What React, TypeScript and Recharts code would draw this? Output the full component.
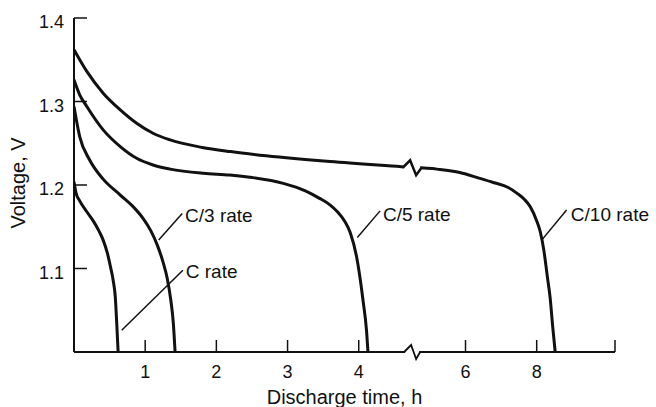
import React from 'react';
import { LineChart, Line, XAxis, YAxis, ReferenceDot, ReferenceLine, Label } from 'recharts';

// discharge curves, hours vs volts
const cHours = [0, 0.03, 0.08, 0.18, 0.27, 0.35, 0.41, 0.47, 0.51, 0.55, 0.58, 0.6, 0.62];
const cVolts = [1.204, 1.19, 1.181, 1.168, 1.157, 1.145, 1.134, 1.118, 1.103, 1.086, 1.066, 1.035, 1.0];

const c3Hours = [0, 0.08, 0.22, 0.41, 0.65, 0.82, 0.97, 1.08, 1.17, 1.25, 1.31, 1.36, 1.395, 1.42];
const c3Volts = [1.294, 1.258, 1.23, 1.207, 1.188, 1.175, 1.16, 1.145, 1.128, 1.108, 1.088, 1.062, 1.035, 1.0];

const c5Hours = [0, 0.08, 0.18, 0.41, 0.65, 0.88, 1.11, 1.35, 1.82, 2.19, 2.5, 2.94, 3.25, 3.45, 3.6, 3.7, 3.8, 3.88, 3.97, 4.06, 4.11, 4.13];
const c5Volts = [1.326, 1.308, 1.294, 1.266, 1.246, 1.232, 1.224, 1.219, 1.214, 1.212, 1.209, 1.202, 1.193, 1.184, 1.176, 1.168, 1.157, 1.143, 1.114, 1.062, 1.025, 1.0];

const c10Hours = [0, 0.18, 0.41, 0.65, 0.88, 1.11, 1.35, 1.8, 2.2, 2.7, 3.6, 4.6, 5.2, 5.84, 6.4, 6.78, 7.2, 7.45, 7.65, 7.82, 8.0, 8.1, 8.2, 8.3, 8.38, 8.45, 8.52];
const c10Volts = [1.362, 1.336, 1.31, 1.29, 1.274, 1.262, 1.254, 1.245, 1.24, 1.235, 1.228, 1.222, 1.219, 1.215, 1.208, 1.203, 1.197, 1.19, 1.183, 1.174, 1.157, 1.144, 1.122, 1.09, 1.064, 1.03, 1.0];

const xTickHours = [1, 2, 3, 4, 6, 8];
const yTicks = [1.1, 1.2, 1.3, 1.4];

// broken time axis: after 5 h the scale is halved
const BREAK_AT = 4.75;
const X_END = 7.6;
const toAxis = (h: number) => (h <= 5 ? h : 5 + (h - 5) / 2);

const makeSeries = (hours: number[], volts: number[]) =>
  hours.map((h, i) => ({ x: toAxis(h), v: volts[i] }));

const series = [
  { key: 'C', data: makeSeries(cHours, cVolts) },
  { key: 'C/3', data: makeSeries(c3Hours, c3Volts) },
  { key: 'C/5', data: makeSeries(c5Hours, c5Volts) },
  { key: 'C/10', data: makeSeries(c10Hours, c10Volts) },
];

// rate labels with their leader lines (axis units)
const notes = [
  { text: 'C rate', from: [0.67, 1.026], to: [1.53, 1.098], at: [1.57, 1.097] },
  { text: 'C/3 rate', from: [1.19, 1.134], to: [1.52, 1.166], at: [1.56, 1.163] },
  { text: 'C/5 rate', from: [3.98, 1.137], to: [4.3, 1.169], at: [4.34, 1.165] },
  { text: 'C/10 rate', from: [6.57, 1.134], to: [6.92, 1.17], at: [6.98, 1.165] },
];

const INK = '#111';
const FONT = '"Liberation Sans", Arial, Helvetica, sans-serif';

const voltsAt = (hours: number[], volts: number[], h: number) => {
  for (let i = 1; i < hours.length; i++) {
    if (hours[i] >= h) {
      const f = (h - hours[i - 1]) / (hours[i] - hours[i - 1]);
      return volts[i - 1] + f * (volts[i] - volts[i - 1]);
    }
  }
  return volts[volts.length - 1];
};

const XTick = (props: any) => {
  const { x, y, payload } = props;
  const idx = xTickHours.findIndex((h) => Math.abs(toAxis(h) - payload.value) < 1e-6);
  return (
    <g>
      <line x1={x} y1={y} x2={x} y2={y - 12} stroke={INK} strokeWidth={1.5} />
      {idx >= 0 && (
        <text x={x} y={y + 26} textAnchor="middle" fontSize={18} fontFamily={FONT} fill={INK}>
          {xTickHours[idx]}
        </text>
      )}
    </g>
  );
};

const YTick = (props: any) => {
  const { x, y, payload } = props;
  return (
    <g>
      <line x1={x} y1={y} x2={x + 13} y2={y} stroke={INK} strokeWidth={1.5} />
      <text x={x - 10} y={y + 4} textAnchor="end" dominantBaseline="central" fontSize={18} fontFamily={FONT} fill={INK}>
        {payload.value.toFixed(1)}
      </text>
    </g>
  );
};

const BreakMark = ({ cx, cy }: any) => (
  <g>
    <rect x={cx - 8} y={cy - 4} width={16} height={8} fill="#fff" />
    <path
      d={`M${cx - 9},${cy} L${cx - 2},${cy - 7} L${cx + 4},${cy + 8} L${cx + 9},${cy + 1}`}
      fill="none"
      stroke={INK}
      strokeWidth={2.5}
      strokeLinejoin="miter"
    />
  </g>
);

const AxisBreak = ({ cx, cy }: any) => (
  <g>
    <rect x={cx - 7} y={cy - 2} width={14} height={4} fill="#fff" />
    <path
      d={`M${cx - 8},${cy} L${cx - 1},${cy - 7} L${cx + 4},${cy + 7} L${cx + 8},${cy}`}
      fill="none"
      stroke={INK}
      strokeWidth={1.8}
    />
  </g>
);

const noteShape = (text: string) => ({ cx, cy }: any) => (
  <text x={cx} y={cy} dominantBaseline="central" fontSize={19} fontFamily={FONT} fill={INK}>
    {text}
  </text>
);

export default function App() {
  const xTicks = [...xTickHours.map(toAxis), X_END];
  return (
    <div style={{ position: 'absolute', left: 0, top: 0, background: '#fff' }}>
      <LineChart width={656} height={407} margin={{ top: 18, right: 41, bottom: 25, left: 14 }}>
        <XAxis
          type="number"
          dataKey="x"
          domain={[0, X_END]}
          ticks={xTicks}
          tick={<XTick />}
          tickSize={0}
          tickMargin={0}
          tickLine={false}
          height={30}
          axisLine={{ stroke: INK, strokeWidth: 2 }}
          allowDataOverflow
        >
          <Label
            content={({ viewBox }: any) => (
              <text
                x={viewBox.x + viewBox.width / 2}
                y={viewBox.y + 52}
                textAnchor="middle"
                fontSize={20}
                fontFamily={FONT}
                fill={INK}
              >
                Discharge time, h
              </text>
            )}
          />
        </XAxis>
        <YAxis
          type="number"
          dataKey="v"
          domain={[1.0, 1.4]}
          ticks={yTicks}
          tick={<YTick />}
          tickSize={0}
          tickMargin={0}
          tickLine={false}
          width={60}
          axisLine={{ stroke: INK, strokeWidth: 2 }}
          allowDataOverflow
        >
          <Label
            content={({ viewBox }: any) => {
              const cx = 18;
              const cy = viewBox.y + viewBox.height / 2 - 2;
              return (
                <text
                  x={cx}
                  y={cy}
                  transform={`rotate(-90 ${cx} ${cy})`}
                  textAnchor="middle"
                  dominantBaseline="central"
                  fontSize={20}
                  fontFamily={FONT}
                  fill={INK}
                >
                  Voltage, V
                </text>
              );
            }}
          />
        </YAxis>
        {series.map((s) => (
          <Line
            key={s.key}
            data={s.data}
            dataKey="v"
            type="monotone"
            stroke={INK}
            strokeWidth={3}
            dot={false}
            activeDot={false}
            isAnimationActive={false}
          />
        ))}
        {notes.map((n) => (
          <ReferenceLine
            key={n.text + '-lead'}
            segment={[
              { x: n.from[0], y: n.from[1] },
              { x: n.to[0], y: n.to[1] },
            ]}
            stroke={INK}
            strokeWidth={1.5}
          />
        ))}
        {notes.map((n) => (
          <ReferenceDot key={n.text} x={n.at[0]} y={n.at[1]} shape={noteShape(n.text)} />
        ))}
        <ReferenceDot x={BREAK_AT} y={voltsAt(c10Hours, c10Volts, BREAK_AT)} shape={<BreakMark />} />
        <ReferenceDot x={BREAK_AT} y={1.0} shape={<AxisBreak />} />
      </LineChart>
    </div>
  );
}
